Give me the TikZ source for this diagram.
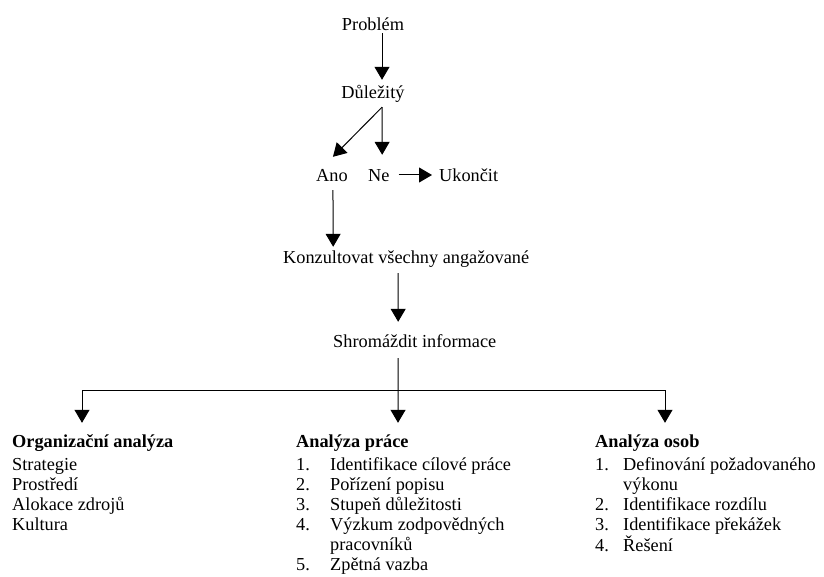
\documentclass[tikz,border=0pt]{standalone}
\usepackage{fontspec}
\setmainfont{Liberation Serif}
\usetikzlibrary{arrows.meta,calc}
\begin{document}
\begin{tikzpicture}[x=1pt,y=-1pt,
  txt/.style={inner sep=0pt, font=\fontsize{18.3}{20}\selectfont},
  lbl/.style={txt, text height=13pt, text depth=4pt},
  flow/.style={draw=black, line width=1pt, -{Triangle[length=13pt,width=15pt]}},
  link/.style={draw=black, line width=1pt}]
\useasboundingbox (0,0) rectangle (824,577);

% decision chain
\node[lbl, anchor=base] (prob) at (373,31) {Problém};
\node[lbl, anchor=base] (dul) at (373,99) {Důležitý};
\node[lbl, anchor=base west] (ano) at (316,182) {Ano};
\node[lbl, anchor=base west] (ne) at (368,182) {Ne};
\node[lbl, anchor=base west] (ukon) at (439,182) {Ukončit};
\node[lbl, anchor=base west] (konz) at (283,263) {Konzultovat všechny angažované};
\node[lbl, anchor=base west] (shrom) at (333,347) {Shromáždit informace};

% three analyses
\node[txt, anchor=base west] (org) at (12,447) {%
  \begin{tabular}[t]{@{}l@{}}
  \textbf{Organizační analýza}\\[3pt]
  Strategie\\
  Prostředí\\
  Alokace zdrojů\\
  Kultura
  \end{tabular}};
\node[txt, anchor=base west] (prace) at (296,447) {%
  \begin{tabular}[t]{@{}p{34pt}@{}l@{}}
  \multicolumn{2}{@{}l@{}}{\textbf{Analýza práce}}\\[3pt]
  1. & Identifikace cílové práce\\
  2. & Pořízení popisu\\
  3. & Stupeň důležitosti\\
  4. & Výzkum zodpovědných\\
     & pracovníků\\
  5. & Zpětná vazba
  \end{tabular}};
\node[txt, anchor=base west] (osob) at (595,447) {%
  \begin{tabular}[t]{@{}p{28pt}@{}l@{}}
  \multicolumn{2}{@{}l@{}}{\textbf{Analýza osob}}\\[3pt]
  1. & Definování požadovaného\\
     & výkonu\\
  2. & Identifikace rozdílu\\
  3. & Identifikace překážek\\
  4. & Řešení
  \end{tabular}};

% connectors
\draw[flow] ($(prob.south)+(9,-2)$) -- ($(dul.north)+(9,-6)$);
\draw[flow] ($(dul.south)+(9,4)$) -- ($(ano.north)+(1,-12)$);
\draw[flow] ($(dul.south)+(9,4)$) -- ($(ne.north)+(3.3,-14)$);
\draw[flow] ($(ne.east)+(9,-2.5)$) -- ($(ukon.west)+(-7,-2.5)$);
\draw[flow] ($(ano.south)+(1,4)$) -- ($(konz.north)+(-73,-3)$);
\draw[flow] ($(konz.south)+(-8,6)$) -- ($(shrom.north)+(-16.6,-12)$);

\coordinate (split) at ($(shrom.south)+(-16.6,39)$);
\draw[flow] ($(shrom.south)+(-16.6,7)$) -- ($(prace.north west)+(102,-10)$);
\draw[flow] (split) -| ($(org.north west)+(70,-10)$);
\draw[flow] (split) -| ($(osob.north west)+(70,-10)$);
\end{tikzpicture}
\end{document}
